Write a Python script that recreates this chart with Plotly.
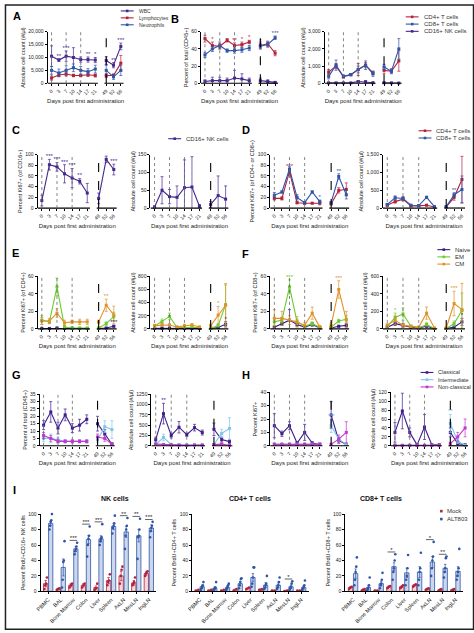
import plotly.graph_objects as go

W, H = 474, 633
NARROW = "Liberation Sans Narrow, Arial Narrow, Arial, sans-serif"
SANS = "Arial, Liberation Sans, sans-serif"

# ---------------- data ----------------
DAYS = ["0", "3", "7", "10", "14", "17", "21", "49", "52", "56"]

# A
A_wbc = [10500, 9000, 10500, 10000, 9200, 9200, 9000, 8800, 7000, 14300]
A_wbc_e = [4000, 500, 2000, 3800, 1000, 1000, 1000, 1500, 1000, 1300]
A_lym = [2000, 3200, 3600, 3000, 3000, 3300, 3000, 3000, 3000, 7800]
A_lym_e = [800, 600, 800, 500, 500, 700, 600, 800, 600, 3000]
A_neu = [5000, 4000, 5000, 6000, 5000, 4500, 5500, 5000, 2500, 5000]
A_neu_e = [1500, 1500, 1800, 1500, 1500, 1200, 1500, 2000, 1000, 2000]
A_stars = [(0, 1, "**"), (0, 2, "***"), (0, 5, "**"), (0, 6, "*"), (0, 8, "**"), (0, 9, "***")]

# B
B_cd4 = [52, 44, 43, 50, 44, 45, 48, 44, 46, 35]
B_cd4_e = [4, 4, 3, 2, 3, 3, 2, 4, 3, 3]
B_cd8 = [33, 40, 44, 38, 38, 39, 41, 43, 45, 53]
B_cd8_e = [3, 3, 4, 2, 3, 3, 3, 3, 3, 2]
B_nk = [2, 3, 3, 3, 6, 5, 3, 3, 2, 1]
B_nk_e = [2, 4, 4, 3, 9, 6, 3, 3, 2, 1]
B_stars = [(0, 1, "*"), (0, 4, "**"), (0, 5, "*"), (0, 6, "*"), (1, 7, "*"), (1, 9, "***")]
B_cd4_abs = [650, 1000, 380, 500, 800, 1050, 600, 750, 700, 1300]
B_cd4_abs_e = [150, 150, 80, 60, 350, 150, 100, 200, 100, 600]
B_cd8_abs = [400, 1050, 400, 500, 800, 1050, 550, 950, 700, 2000]
B_cd8_abs_e = [150, 300, 80, 60, 200, 250, 150, 150, 150, 600]
B_nk_abs = [20, 20, 20, 20, 100, 80, 30, 30, 20, 10]
B_nk_abs_e = [20, 20, 20, 20, 60, 80, 20, 20, 20, 10]

# C
C_nk = [14, 81, 77, 64, 56, 50, 28, 18, 91, 72]
C_nk_e = [10, 10, 8, 17, 18, 5, 18, 10, 6, 10]
C_stars = [(0, 1, "***"), (0, 2, "***"), (0, 3, "***"), (0, 4, "***"), (0, 5, "**"), (0, 8, "***"), (0, 9, "***")]
C_nk_abs = [3, 50, 32, 30, 57, 59, 5, 10, 35, 25]
C_nk_abs_e = [3, 38, 20, 32, 78, 85, 5, 8, 55, 37]

# D
D_cd4 = [18, 18, 68, 10, 9, 9, 9, 8, 33, 35]
D_cd4_e = [3, 3, 5, 2, 2, 1, 3, 2, 5, 12]
D_cd8 = [24, 30, 73, 20, 10, 30, 12, 10, 59, 25]
D_cd8_e = [5, 2, 5, 5, 2, 2, 3, 2, 5, 8]
D_stars = [(0, 2, "***"), (1, 6, "*"), (1, 8, "**")]
D_cd4_abs = [80, 180, 250, 60, 60, 80, 30, 30, 300, 800]
D_cd4_abs_e = [30, 40, 50, 20, 20, 20, 10, 20, 80, 650]
D_cd8_abs = [100, 290, 270, 80, 70, 300, 40, 40, 370, 520]
D_cd8_abs_e = [30, 50, 50, 20, 20, 30, 10, 20, 60, 380]
D_abs_stars = [(1, 8, "**")]

# E (CD4+)
E_naive = [0.5, 0.5, 1, 0.5, 0.5, 0.5, 0.5, 0.5, 1, 3]
E_naive_e = [0.3, 0.3, 0.5, 0.3, 0.3, 0.3, 0.3, 0.3, 0.5, 1]
E_em = [10, 8, 48, 2, 1, 1, 1, 1, 6, 14]
E_em_e = [5, 2, 10, 2, 1, 1, 1, 1, 2, 5]
E_cm = [9, 9, 18, 7, 8, 8, 8, 8, 27, 16]
E_cm_e = [4, 3, 5, 3, 2, 3, 3, 2, 7, 10]
E_stars = [(1, 2, "***"), (2, 8, "**"), (0, 9, "***")]
E_naive_abs = [10, 10, 10, 5, 5, 5, 5, 5, 20, 70]
E_naive_abs_e = [5, 5, 5, 3, 3, 3, 3, 3, 10, 40]
E_em_abs = [40, 110, 190, 20, 20, 30, 20, 10, 50, 370]
E_em_abs_e = [20, 40, 50, 10, 10, 10, 10, 5, 20, 300]
E_cm_abs = [50, 60, 60, 30, 50, 60, 30, 50, 210, 360]
E_cm_abs_e = [20, 20, 20, 10, 20, 20, 10, 20, 130, 330]
E_abs_stars = [(2, 8, "*"), (0, 9, "*")]

# F (CD8+)
F_naive = [2, 6, 10, 5, 2, 5, 1, 1, 3, 4]
F_naive_e = [1, 2, 12, 2, 1, 2, 1, 1, 1, 2]
F_em = [8, 10, 48, 8, 3, 6, 2, 2, 9, 11]
F_em_e = [4, 3, 8, 3, 2, 2, 1, 1, 2, 4]
F_cm = [12, 12, 10, 8, 4, 18, 2, 4, 45, 10]
F_cm_e = [10, 8, 5, 6, 3, 7, 2, 3, 10, 10]
F_stars = [(1, 2, "***"), (2, 8, "***")]
F_naive_abs = [20, 60, 40, 20, 10, 30, 5, 5, 20, 80]
F_naive_abs_e = [10, 20, 20, 10, 5, 10, 3, 3, 10, 40]
F_em_abs = [30, 130, 170, 30, 10, 50, 5, 5, 60, 210]
F_em_abs_e = [20, 50, 70, 10, 5, 20, 3, 3, 30, 200]
F_cm_abs = [40, 100, 40, 30, 20, 180, 10, 10, 290, 220]
F_cm_abs_e = [20, 50, 20, 10, 10, 70, 5, 5, 140, 300]
F_abs_stars = [(1, 1, "*"), (2, 8, "***"), (0, 9, "*")]

# G (monocytes, % of CD45+)
G_cla = [14, 23, 12, 21, 12, 14, 18, 15, 8, 1]
G_cla_e = [3, 7, 4, 4, 3, 4, 3, 5, 3, 1]
G_int = [5, 5, 4, 3, 3, 3, 3, 4, 13, 11]
G_int_e = [2, 3, 2, 1, 1, 1, 1, 2, 4, 6]
G_non = [7, 5, 3, 3, 3, 3, 3, 6, 5, 1]
G_non_e = [2, 2, 1, 1, 1, 1, 1, 2, 2, 1]
G_cla_abs = [150, 780, 250, 450, 270, 440, 320, 400, 150, 100]
G_cla_abs_e = [60, 250, 60, 140, 40, 80, 60, 150, 60, 40]
G_int_abs = [30, 200, 30, 20, 20, 20, 20, 30, 300, 420]
G_int_abs_e = [10, 80, 10, 10, 10, 10, 10, 20, 100, 260]
G_non_abs = [40, 30, 20, 20, 10, 20, 20, 30, 40, 10]
G_non_abs_e = [10, 10, 10, 10, 5, 10, 10, 10, 20, 5]
G_abs_stars = [(0, 1, "**")]

# H (Ki67+ monocytes)
H_cla = [15, 9, 15, 2, 10, 2, 1, 23, 4, 1]
H_cla_e = [9, 2, 3, 1, 6, 1, 1, 10, 2, 1]
H_int = [1, 1, 1, 1, 1, 1, 1, 15, 5, 1]
H_int_e = [1, 1, 1, 1, 1, 1, 1, 5, 2, 1]
H_non = [1, 1, 1, 1, 1, 1, 1, 1, 5, 10]
H_non_e = [1, 1, 1, 1, 1, 1, 1, 1, 3, 8]
H_stars = [(1, 7, "***")]
H_cla_abs = [30, 78, 30, 2, 42, 2, 2, 30, 5, 2]
H_cla_abs_e = [22, 40, 10, 2, 28, 2, 2, 10, 3, 2]
H_int_abs = [1, 1, 1, 1, 1, 1, 1, 50, 10, 1]
H_int_abs_e = [1, 1, 1, 1, 1, 1, 1, 20, 5, 1]
H_non_abs = [1, 1, 1, 1, 1, 1, 1, 5, 20, 40]
H_non_abs_e = [1, 1, 1, 1, 1, 1, 1, 3, 10, 20]
H_abs_stars = [(1, 7, "**")]

# I (BrdU tissues)
TISSUES = ["PBMC", "BAL", "Bone Marrow", "Colon", "Liver", "Spleen", "AxLN", "MesLN", "IngLN"]
I_nk_mock = [10, 3, 8, 8, 5, 14, 20, 11, 23]
I_nk_mock_e = [4, 1, 2, 2, 2, 4, 6, 3, 2]
I_nk_alt = [88, 31, 55, 67, 68, 84, 77, 72, 82]
I_nk_alt_e = [3, 11, 3, 5, 4, 4, 7, 8, 4]
I_nk_mock_pts = [[3, 8, 10, 18], [2, 3, 4], [5, 8, 10], [5, 8, 10], [2, 4, 10], [8, 12, 14, 22], [10, 20, 28, 32], [8, 10, 12, 18], [20, 23, 25, 26]]
I_nk_alt_pts = [[80, 85, 90, 92, 100], [5, 15, 38, 40, 65], [48, 52, 55, 58, 63], [45, 60, 68, 72, 84], [60, 65, 68, 70, 87], [75, 82, 85, 88, 98], [55, 72, 80, 85, 95], [42, 70, 72, 80, 94], [70, 78, 82, 85, 90]]
I_nk_stars = ["***", "", "***", "***", "***", "***", "**", "**", "***"]

I_cd4_mock = [1, 1, 1, 2, 4, 2, 1, 1, 1]
I_cd4_mock_e = [0.5, 0.5, 0.5, 1, 1, 1, 0.5, 0.3, 0.3]
I_cd4_alt = [6, 4, 5, 10, 18, 8, 8, 6, 5]
I_cd4_alt_e = [2, 2, 2, 3, 5, 3, 3, 2, 2]
I_cd4_mock_pts = [[1, 2], [1, 2], [1, 2], [1, 3], [3, 5], [2, 3], [1, 1], [0.5, 1], [1, 1]]
I_cd4_alt_pts = [[2, 4, 6, 8, 12], [1, 3, 4, 5, 12], [2, 4, 6, 8, 10], [4, 8, 12, 16, 17], [6, 10, 18, 31, 31], [3, 5, 8, 10, 20], [3, 5, 8, 12, 18], [2, 4, 6, 10, 13], [2, 4, 6, 8, 14]]
I_cd4_stars = ["", "", "", "", "", "", "", "*", ""]

I_cd8_mock = [5, 2, 1, 6, 6, 8, 3, 2, 2]
I_cd8_mock_e = [1, 1, 0.5, 1, 1, 1, 1, 1, 1]
I_cd8_alt = [23, 5, 10, 32, 24, 25, 38, 30, 26]
I_cd8_alt_e = [6, 3, 3, 5, 6, 7, 7, 5, 6]
I_cd8_mock_pts = [[3, 5, 6], [1, 2, 3], [1, 1], [4, 6, 7], [4, 6, 8], [6, 8, 9], [2, 3, 4], [1, 2, 3], [1, 2, 3]]
I_cd8_alt_pts = [[8, 15, 25, 32, 44], [1, 3, 5, 8, 18], [4, 8, 10, 15, 24], [15, 25, 30, 40, 48], [8, 15, 20, 30, 47], [8, 15, 25, 30, 50], [20, 30, 40, 45, 64], [18, 25, 30, 43, 45], [15, 20, 25, 30, 55]]
I_cd8_stars = ["", "", "", "*", "", "", "*", "**", ""]

# ---------------- style ----------------
RED = "#B3213B"
BLUE = "#2E55A8"
PURP = "#46278F"
NAIVE = "#3A1C80"
EM = "#6CCB2E"
CM = "#E0922B"
CLA = "#3F1E8C"
INT = "#7DC8EA"
NON = "#C237CF"
XPOS = [0, 1, 2, 3, 4, 5, 6, 7.5, 8.5, 9.5]
XR = [-0.55, 9.9]

fig = go.Figure()
LAYOUT = {}
SHAPES = []
ANN = []
AXN = [0]


def new_axes():
    AXN[0] += 1
    return "" if AXN[0] == 1 else str(AXN[0])


def brk(v, fill=None):
    return list(v[:7]) + [fill] + list(v[7:])


def yaxis_common(ytop, ybot, yrange, tv, tt, title, s):
    return dict(domain=[1 - ybot / H, 1 - ytop / H], anchor="x" + s, range=yrange,
                tickmode="array", tickvals=tv, ticktext=tt, ticks="outside", ticklen=2,
                tickwidth=0.8, tickcolor="black", showline=True, linecolor="black", linewidth=1,
                showgrid=False, zeroline=False, tickfont=dict(size=5, family=SANS, color="#222"),
                title=dict(text=title, font=dict(size=5.5, family=NARROW, color="#222"), standoff=2))


def ts_panel(x0, x1, ytop, ybot, ymax, tv, tt, ytitle, series, stars=()):
    s = new_axes()
    LAYOUT["xaxis" + s] = dict(domain=[x0 / W, x1 / W], anchor="y" + s, range=XR, tickmode="array",
                               tickvals=XPOS, ticktext=DAYS, tickangle=-45, ticks="outside", ticklen=2,
                               tickwidth=0.8, tickcolor="black", showline=False, showgrid=False,
                               zeroline=False, tickfont=dict(size=5, family=SANS, color="#222"),
                               title=dict(text="Days post first administration",
                                          font=dict(size=6, family=NARROW, color="#222"), standoff=3))
    LAYOUT["yaxis" + s] = yaxis_common(ytop, ybot, [0, ymax], tv, tt, ytitle, s)
    xr, yr = "x" + s, "y" + s + " domain"
    # broken x axis
    SHAPES.append(dict(type="line", xref=xr, yref=yr, x0=XR[0], x1=6.35, y0=0, y1=0,
                       line=dict(color="black", width=1.2)))
    SHAPES.append(dict(type="line", xref=xr, yref=yr, x0=7.25, x1=XR[1], y0=0, y1=0,
                       line=dict(color="black", width=1.2)))
    for i in (0, 2, 4):
        SHAPES.append(dict(type="line", xref=xr, yref=yr, x0=XPOS[i], x1=XPOS[i], y0=0, y1=1,
                           line=dict(color="#666", width=0.8, dash="dot")))
    SHAPES.append(dict(type="line", xref=xr, yref=yr, x0=XPOS[7], x1=XPOS[7], y0=0, y1=1,
                       line=dict(color="black", width=1.1, dash="dash")))
    for (y, e, c) in series:
        fig.add_trace(go.Scatter(x=brk(XPOS), y=brk(y), xaxis="x" + s, yaxis="y" + s,
                                 mode="lines+markers", line=dict(color=c, width=1.1),
                                 marker=dict(size=3, color=c, symbol="square"),
                                 error_y=dict(type="data", array=brk(e, 0), color=c, thickness=0.7, width=1.5),
                                 cliponaxis=False, showlegend=False, hoverinfo="skip"))
    sx, sy, st, sc = [], [], [], []
    for (k, i, txt) in stars:
        y, e, c = series[k]
        sx.append(XPOS[i]); sy.append(y[i] + e[i] + ymax * 0.05); st.append(txt); sc.append(c)
    if sx:
        fig.add_trace(go.Scatter(x=sx, y=sy, xaxis="x" + s, yaxis="y" + s, mode="text", text=st,
                                 textfont=dict(size=6, color=sc), cliponaxis=False,
                                 showlegend=False, hoverinfo="skip"))


def bar_panel(x0, x1, ytop, ybot, title, ytitle, mock, mock_e, alt, alt_e, mpts, apts, stars):
    s = new_axes()
    n = len(TISSUES)
    LAYOUT["xaxis" + s] = dict(domain=[x0 / W, x1 / W], anchor="y" + s, range=[-0.6, n - 0.4],
                               tickmode="array", tickvals=list(range(n)), ticktext=TISSUES,
                               tickangle=-45, ticks="outside", ticklen=2, tickwidth=0.8,
                               tickcolor="black", showline=True, linecolor="black", linewidth=1.2,
                               showgrid=False, zeroline=False,
                               tickfont=dict(size=5.5, family=SANS, color="#222"))
    LAYOUT["yaxis" + s] = yaxis_common(ytop, ybot, [0, 100], [0, 20, 40, 60, 80, 100],
                                       ["0", "20", "40", "60", "80", "100"], ytitle, s)
    xm = [i - 0.2 for i in range(n)]
    xa = [i + 0.2 for i in range(n)]
    fig.add_trace(go.Bar(x=xm, y=mock, width=0.34, xaxis="x" + s, yaxis="y" + s,
                         marker=dict(color="#F5D9DD", line=dict(color=RED, width=0.8)),
                         error_y=dict(type="data", array=mock_e, color=RED, thickness=0.7, width=1.2),
                         showlegend=False, hoverinfo="skip"))
    fig.add_trace(go.Bar(x=xa, y=alt, width=0.34, xaxis="x" + s, yaxis="y" + s,
                         marker=dict(color="#CCD7EC", line=dict(color=BLUE, width=0.8)),
                         error_y=dict(type="data", array=alt_e, color=BLUE, thickness=0.7, width=1.2),
                         showlegend=False, hoverinfo="skip"))
    for pts, xc, c in ((mpts, xm, RED), (apts, xa, BLUE)):
        px, py = [], []
        for i, vals in enumerate(pts):
            m = len(vals)
            for j, v in enumerate(vals):
                off = 0 if m == 1 else -0.1 + 0.2 * j / (m - 1)
                px.append(xc[i] + off); py.append(v)
        fig.add_trace(go.Scatter(x=px, y=py, xaxis="x" + s, yaxis="y" + s, mode="markers",
                                 marker=dict(size=2.6, color=c), cliponaxis=False,
                                 showlegend=False, hoverinfo="skip"))
    sx, sy, st = [], [], []
    for i, txt in enumerate(stars):
        if txt:
            top = max(max(apts[i]), alt[i] + alt_e[i])
            sx.append(i); sy.append(top + 5); st.append(txt)
            SHAPES.append(dict(type="line", xref="x" + s, yref="y" + s, x0=i - 0.3, x1=i + 0.3,
                               y0=top + 3, y1=top + 3, line=dict(color="#222", width=0.7)))
    if sx:
        fig.add_trace(go.Scatter(x=sx, y=sy, xaxis="x" + s, yaxis="y" + s, mode="text", text=st,
                                 textfont=dict(size=6, color="#222"), cliponaxis=False,
                                 showlegend=False, hoverinfo="skip"))
    ANN.append(dict(x=(x0 + x1) / 2 / W, y=1 - (ytop - 10) / H, xref="paper", yref="paper",
                    text="<b>" + title + "</b>", showarrow=False, font=dict(size=7, family=SANS, color="#111")))


def legend(xp, yp, items, gap=7.3, dots=False, fs=6):
    for k, (name, c) in enumerate(items):
        y = 1 - (yp + k * gap) / H
        if not dots:
            SHAPES.append(dict(type="line", xref="paper", yref="paper", x0=xp / W, x1=(xp + 13) / W,
                               y0=y, y1=y, line=dict(color=c, width=1.1)))
        cx = xp + (6.5 if not dots else 3)
        SHAPES.append(dict(type="rect", xref="paper", yref="paper", x0=(cx - 1.3) / W, x1=(cx + 1.3) / W,
                           y0=y - 1.3 / H, y1=y + 1.3 / H, fillcolor=c, line=dict(width=0)))
        ANN.append(dict(x=(xp + (16 if not dots else 7)) / W, y=y, xref="paper", yref="paper", text=name,
                        showarrow=False, xanchor="left", yanchor="middle",
                        font=dict(size=fs, family=SANS, color="#333")))


def letter(x, y, t):
    ANN.append(dict(x=x / W, y=1 - y / H, xref="paper", yref="paper", text="<b>" + t + "</b>",
                    showarrow=False, xanchor="left", yanchor="middle",
                    font=dict(size=11, family=SANS, color="black")))


ABS = "Absolute cell count (#/µl)"

# Row 1
ts_panel(43, 120, 29, 81, 20000, [0, 5000, 10000, 15000, 20000], ["0", "5,000", "10,000", "15,000", "20,000"],
         ABS, [(A_wbc, A_wbc_e, PURP), (A_lym, A_lym_e, RED), (A_neu, A_neu_e, BLUE)], A_stars)
ts_panel(198, 276, 29, 81, 60, [0, 20, 40, 60], ["0", "20", "40", "60"], "Percent of total (CD45+)",
         [(B_cd4, B_cd4_e, RED), (B_cd8, B_cd8_e, BLUE), (B_nk, B_nk_e, PURP)], B_stars)
ts_panel(323, 401, 29, 81, 3000, [0, 1000, 2000, 3000], ["0", "1,000", "2,000", "3,000"], ABS,
         [(B_cd4_abs, B_cd4_abs_e, RED), (B_cd8_abs, B_cd8_abs_e, BLUE), (B_nk_abs, B_nk_abs_e, PURP)])

# Row 2
ts_panel(33, 113, 153, 207, 100, [0, 20, 40, 60, 80, 100], ["0", "20", "40", "60", "80", "100"],
         "Percent Ki67+ (of CD16+)", [(C_nk, C_nk_e, PURP)], C_stars)
ts_panel(147, 226, 153, 207, 150, [0, 50, 100, 150], ["0", "50", "100", "150"], ABS,
         [(C_nk_abs, C_nk_abs_e, PURP)])
ts_panel(268, 348, 153, 207, 100, [0, 20, 40, 60, 80, 100], ["0", "20", "40", "60", "80", "100"],
         "Percent Ki67+ (of CD4+ or CD8+)", [(D_cd4, D_cd4_e, RED), (D_cd8, D_cd8_e, BLUE)], D_stars)
ts_panel(382, 465, 153, 207, 1500, [0, 500, 1000, 1500], ["0", "500", "1,000", "1,500"], ABS,
         [(D_cd4_abs, D_cd4_abs_e, RED), (D_cd8_abs, D_cd8_abs_e, BLUE)], D_abs_stars)

# Row 3
ts_panel(33, 113, 276, 329, 60, [0, 20, 40, 60], ["0", "20", "40", "60"], "Percent Ki67+ (of CD4+)",
         [(E_naive, E_naive_e, NAIVE), (E_em, E_em_e, EM), (E_cm, E_cm_e, CM)], E_stars)
ts_panel(147, 226, 276, 329, 800, [0, 200, 400, 600, 800], ["0", "200", "400", "600", "800"], ABS,
         [(E_naive_abs, E_naive_abs_e, NAIVE), (E_em_abs, E_em_abs_e, EM), (E_cm_abs, E_cm_abs_e, CM)],
         E_abs_stars)
ts_panel(268, 348, 276, 329, 60, [0, 20, 40, 60], ["0", "20", "40", "60"], "Percent Ki67+ (of CD8+)",
         [(F_naive, F_naive_e, NAIVE), (F_em, F_em_e, EM), (F_cm, F_cm_e, CM)], F_stars)
ts_panel(382, 465, 276, 329, 600, [0, 200, 400, 600], ["0", "200", "400", "600"], ABS,
         [(F_naive_abs, F_naive_abs_e, NAIVE), (F_em_abs, F_em_abs_e, EM), (F_cm_abs, F_cm_abs_e, CM)],
         F_abs_stars)

# Row 4
ts_panel(35, 111, 395, 447, 35, [0, 5, 10, 15, 20, 25, 30, 35], ["0", "5", "10", "15", "20", "25", "30", "35"],
         "Percent of total (CD45+)", [(G_cla, G_cla_e, CLA), (G_int, G_int_e, INT), (G_non, G_non_e, NON)])
ts_panel(148, 230, 395, 447, 1250, [0, 250, 500, 750, 1000, 1250], ["0", "250", "500", "750", "1000", "1250"],
         ABS, [(G_cla_abs, G_cla_abs_e, CLA), (G_int_abs, G_int_abs_e, INT), (G_non_abs, G_non_abs_e, NON)],
         G_abs_stars)
ts_panel(268, 348, 393, 447, 40, [0, 10, 20, 30, 40], ["0", "10", "20", "30", "40"], "Percent Ki67+",
         [(H_cla, H_cla_e, CLA), (H_int, H_int_e, INT), (H_non, H_non_e, NON)], H_stars)
ts_panel(390, 468, 393, 447, 120, [0, 20, 40, 60, 80, 100, 120], ["0", "20", "40", "60", "80", "100", "120"],
         ABS, [(H_cla_abs, H_cla_abs_e, CLA), (H_int_abs, H_int_abs_e, INT), (H_non_abs, H_non_abs_e, NON)],
         H_abs_stars)

# Row 5
bar_panel(36, 153, 516, 594, "NK cells", "Percent BrdU+CD16+ NK cells", I_nk_mock, I_nk_mock_e,
          I_nk_alt, I_nk_alt_e, I_nk_mock_pts, I_nk_alt_pts, I_nk_stars)
bar_panel(189, 307, 516, 594, "CD4+ T cells", "Percent BrdU+CD4+ T cells", I_cd4_mock, I_cd4_mock_e,
          I_cd4_alt, I_cd4_alt_e, I_cd4_mock_pts, I_cd4_alt_pts, I_cd4_stars)
bar_panel(344, 463, 516, 594, "CD8+ T cells", "Percent BrdU+CD8+ T cells", I_cd8_mock, I_cd8_mock_e,
          I_cd8_alt, I_cd8_alt_e, I_cd8_mock_pts, I_cd8_alt_pts, I_cd8_stars)

# legends
legend(117, 8, [("WBC", PURP), ("Lymphocytes", RED), ("Neutrophils", BLUE)], gap=7, fs=5)
legend(405, 14, [("CD4+ T cells", RED), ("CD8+ T cells", BLUE), ("CD16+ NK cells", PURP)])
legend(165, 137, [("CD16+ NK cells", PURP)])
legend(418, 129, [("CD4+ T cells", RED), ("CD8+ T cells", BLUE)])
legend(437, 249, [("Naive", NAIVE), ("EM", EM), ("CM", CM)])
legend(420, 373, [("Classical", CLA), ("Intermediate", INT), ("Non-classical", NON)], fs=5.5)
legend(438, 513, [("Mock", RED), ("ALT803", BLUE)], gap=8, dots=True)

# panel letters
letter(6, 13, "A")
letter(166, 16, "B")
letter(5, 128, "C")
letter(238, 128, "D")
letter(5, 252, "E")
letter(238, 253, "F")
letter(5, 376, "G")
letter(238, 376, "H")
letter(6, 492, "I")

# frame
SHAPES.append(dict(type="rect", xref="paper", yref="paper", x0=0.001, x1=0.999, y0=0.001, y1=0.997,
                   line=dict(color="#222", width=1.5)))

fig.update_layout(width=W, height=H, margin=dict(l=0, r=0, t=0, b=0), paper_bgcolor="white",
                  plot_bgcolor="white", showlegend=False, font=dict(family=SANS, size=6),
                  shapes=SHAPES, annotations=ANN, barmode="overlay", **LAYOUT)
fig.write_html("out.html", config={"displayModeBar": False},
               post_script="document.body.style.margin='0px';document.body.style.padding='0px';"
                           "document.body.style.overflow='hidden';")
